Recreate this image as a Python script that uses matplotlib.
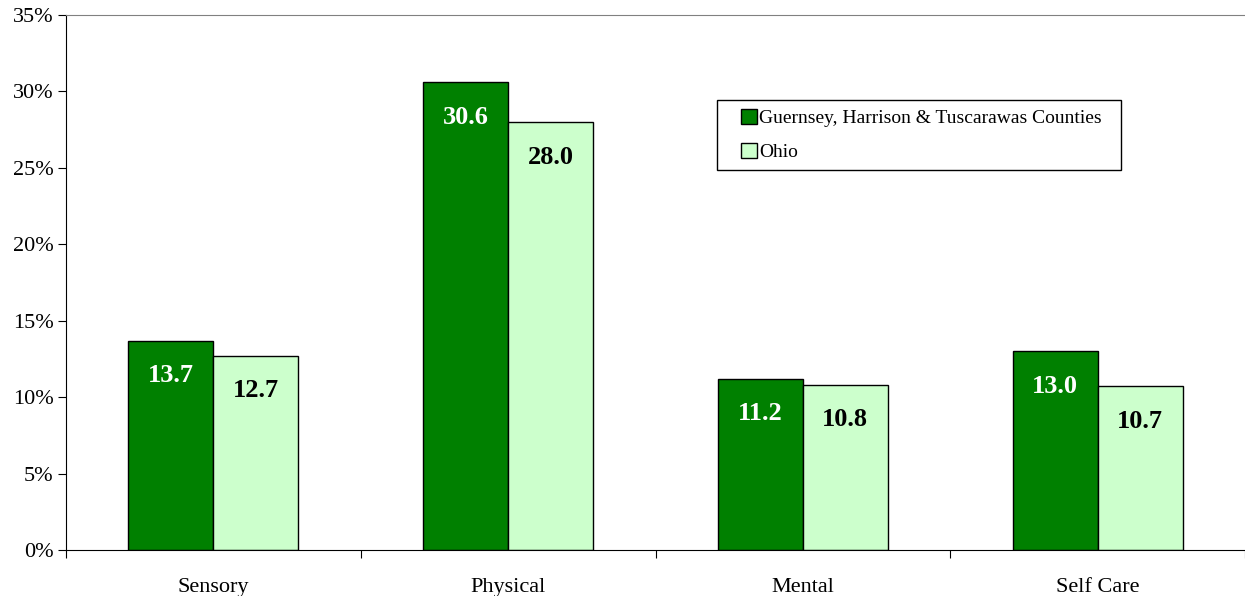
import numpy as np
import matplotlib.pyplot as plt
from matplotlib.patches import Rectangle
from matplotlib.ticker import FuncFormatter

categories = ['Sensory', 'Physical', 'Mental', 'Self Care']
county_vals = [13.7, 30.6, 11.2, 13.0]
ohio_vals = [12.7, 28.0, 10.8, 10.7]
series_names = ['Guernsey, Harrison & Tuscarawas Counties', 'Ohio']

plt.rcParams['font.family'] = ['Liberation Serif', 'DejaVu Serif']

fig = plt.figure(figsize=(12.45, 5.96), dpi=100)
ax = fig.add_axes([66 / 1245, 46 / 596, 1179 / 1245, 535 / 596])

x = np.arange(len(categories)) + 0.5
w = 0.288
b1 = ax.bar(x - w / 2, county_vals, w, color='#008000', edgecolor='black', linewidth=1, label=series_names[0])
b2 = ax.bar(x + w / 2, ohio_vals, w, color='#CCFFCC', edgecolor='black', linewidth=1, label=series_names[1])

for bars, vals, col in [(b1, county_vals, 'white'), (b2, ohio_vals, 'black')]:
    for bar, v in zip(bars, vals):
        ax.annotate('%.1f' % v, (bar.get_x() + bar.get_width() / 2, v),
                    xytext=(0, -35), textcoords='offset pixels',
                    ha='center', va='center', fontsize=19, fontweight='bold', color=col)

ax.set_xlim(0, len(categories))
ax.set_ylim(0, 35)
ax.set_yticks(range(0, 36, 5))
ax.yaxis.set_major_formatter(FuncFormatter(lambda v, p: '%d%%' % v))
ax.set_xticks(range(0, len(categories) + 1))
ax.set_xticklabels([])
ax.set_xticks(x, minor=True)
ax.set_xticklabels(categories, minor=True)
ax.tick_params(axis='x', which='minor', length=0, pad=20, labelsize=16)
ax.tick_params(axis='x', which='major', length=6, direction='out')
ax.tick_params(axis='y', length=6, direction='out', labelsize=16, pad=3)

for s in ['top', 'right']:
    ax.spines[s].set_color('#808080')
ax.spines['right'].set_visible(False)

# legend frame drawn separately so the padding matches the original box
ax.add_patch(Rectangle((0.552, 0.710), 0.343, 0.131, transform=ax.transAxes,
                       facecolor='white', edgecolor='black', linewidth=1, zorder=4))
leg = ax.legend(loc='upper left', bbox_to_anchor=(0.565, 0.841), fontsize=14,
                frameon=False, handlelength=0.82,
                handleheight=0.82, handletextpad=0.1, borderpad=0.45, labelspacing=0.8,
                borderaxespad=0)
leg.set_zorder(5)

fig.savefig('out.png', dpi=100)
